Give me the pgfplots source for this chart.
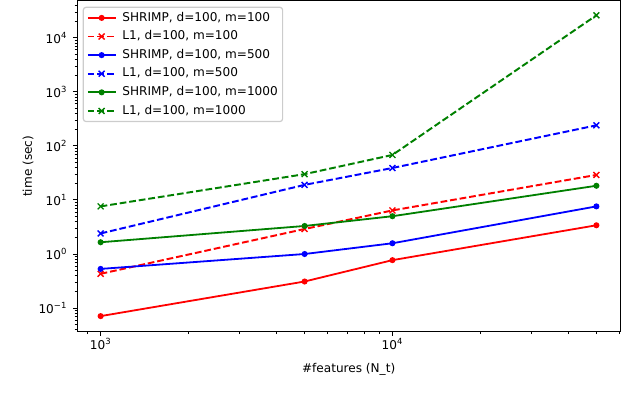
\documentclass[border=0pt]{standalone}
\usepackage{fontspec}
\setmainfont{DejaVu Sans}
\usepackage{pgfplots}
\pgfplotsset{compat=1.18}
\definecolor{mplred}{RGB}{255,0,0}
\definecolor{mplblue}{RGB}{0,0,255}
\definecolor{mplgreen}{RGB}{0,128,0}
\begin{document}
\fontsize{8.7}{10.4}\selectfont
\begin{tikzpicture}
\begin{axis}[
  at={(0,0)}, anchor=south west,
  xmode=log, ymode=log,
  scale only axis, width=391.2pt, height=238.1pt,
  xmin=830, xmax=60400, ymin=0.0366, ymax=47900,
  axis line style={black, line width=0.7pt},
  tick align=outside, xtick pos=bottom, ytick pos=left,
  major tick length=3.06pt, minor tick length=1.75pt,
  every major tick/.style={black, line width=0.7pt},
  every minor tick/.style={black, line width=0.52pt},
  xtick={1000,10000},
  xticklabels={10\textsuperscript{3},10\textsuperscript{4}},
  minor xtick={900,2000,3000,4000,5000,6000,7000,8000,9000,20000,30000,40000,50000,60000},
  ytick={0.1,1,10,100,1000,10000},
  yticklabels={10\textsuperscript{−1},10\textsuperscript{0},10\textsuperscript{1},10\textsuperscript{2},10\textsuperscript{3},10\textsuperscript{4}},
  minor ytick={0.04,0.05,0.06,0.07,0.08,0.09,0.2,0.3,0.4,0.5,0.6,0.7,0.8,0.9,2,3,4,5,6,7,8,9,20,30,40,50,60,70,80,90,200,300,400,500,600,700,800,900,2000,3000,4000,5000,6000,7000,8000,9000,20000,30000,40000},
  tick label style={font=\fontsize{8.7}{10.4}\selectfont},
  xticklabel style={yshift=1.5pt},
  yticklabel style={xshift=-1pt},
  xlabel={\#features (N\_t)},
  ylabel={time (sec)},
  xlabel style={at={(rel axis cs:0.5,0)}, anchor=center, yshift=-27.1pt, font=\fontsize{8.7}{10.4}\selectfont},
  ylabel style={at={(rel axis cs:0,0.5)}, anchor=center, yshift=35.3pt, font=\fontsize{8.7}{10.4}\selectfont},
  legend cell align=left,
  legend style={at={(rel axis cs:0,1)}, anchor=north west, xshift=4.1pt, yshift=-4.1pt,
    draw=black!20, line width=0.87pt, rounded corners=2pt, fill=white,
    inner xsep=2.5pt, inner ysep=2.5pt, row sep=3.1pt,
    font=\fontsize{8.7}{10.4}\selectfont,
    nodes={inner sep=1pt, text height=6.5pt, text depth=1.8pt},
    /tikz/every odd column/.append style={column sep=3.3pt}},
  legend image code/.code={\draw[mark repeat=2,mark phase=2] plot coordinates {(0pt,0pt) (10pt,0pt) (20pt,0pt)};},
  solidline/.style={solid, line width=1.3pt, mark=*, mark size=1.5pt, mark options={solid}},
  dashline/.style={line width=1.4pt, dash pattern=on 4.85pt off 2.1pt, mark=x, mark size=3pt, mark options={solid, line width=1pt}},
]
\addplot[mplred, solidline] coordinates {(1000,0.071) (5000,0.31) (10000,0.77) (50000,3.4)};
\addlegendentry{SHRIMP, d=100, m=100}
\addplot[mplred, dashline] coordinates {(1000,0.43) (5000,2.9) (10000,6.4) (50000,29)};
\addlegendentry{L1, d=100, m=100}
\addplot[mplblue, solidline] coordinates {(1000,0.53) (5000,1.0) (10000,1.58) (50000,7.6)};
\addlegendentry{SHRIMP, d=100, m=500}
\addplot[mplblue, dashline] coordinates {(1000,2.4) (5000,19) (10000,39) (50000,240)};
\addlegendentry{L1, d=100, m=500}
\addplot[mplgreen, solidline] coordinates {(1000,1.65) (5000,3.3) (10000,5.0) (50000,18.3)};
\addlegendentry{SHRIMP, d=100, m=1000}
\addplot[mplgreen, dashline] coordinates {(1000,7.6) (5000,30) (10000,68) (50000,26000)};
\addlegendentry{L1, d=100, m=1000}
\end{axis}
\pgfresetboundingbox
\path[use as bounding box] (-55.44pt,-48.5pt) rectangle (405.36pt,238.8pt);
\end{tikzpicture}
\end{document}
